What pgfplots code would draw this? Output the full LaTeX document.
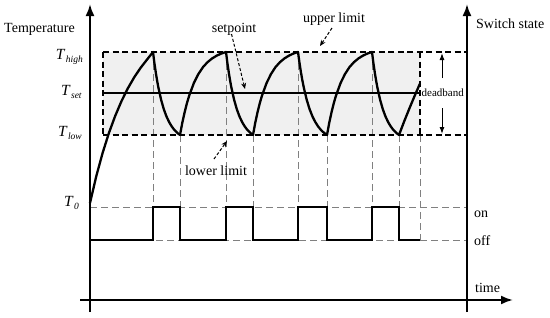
\documentclass[border=0pt]{standalone}
\usepackage{fontspec}
\setmainfont{Liberation Serif}
\usepackage{pgfplots}
\pgfplotsset{compat=1.18}
\usetikzlibrary{arrows.meta}
\definecolor{shade}{RGB}{240,240,240}
\definecolor{dgray}{RGB}{128,128,128}
\newcommand{\Tlab}[1]{\fontsize{15.5}{18}\selectfont\textit{T}\hspace{0.5pt}\raisebox{-0.45ex}{\fontsize{9.5}{11}\selectfont\textit{#1}}}
\begin{document}
\begin{tikzpicture}[lab/.style={font=\fontsize{14}{16}\selectfont, inner sep=0pt}]
\begin{axis}[width=550pt,height=317pt,scale only axis,
  xmin=0,xmax=550,ymin=0,ymax=317,y dir=reverse,hide axis,clip=false]
\addplot[draw=none,forget plot] coordinates {(0,0) (550,317)};
% shaded deadband
\addplot[fill=shade,draw=none] coordinates {(103,52) (420,52) (420,135) (103,135) (103,52)};
% grey dashed guide lines
\addplot[dgray,line width=0.9pt,dash pattern=on 7pt off 4pt] coordinates {(90,207) (467,207)};
\addplot[dgray,line width=0.9pt,dash pattern=on 7pt off 4pt] coordinates {(90,240) (467,240)};
\addplot[dgray,line width=0.9pt,dash pattern=on 7pt off 4pt] coordinates {(153,52) (153,240)};
\addplot[dgray,line width=0.9pt,dash pattern=on 7pt off 4pt] coordinates {(180,135) (180,240)};
\addplot[dgray,line width=0.9pt,dash pattern=on 7pt off 4pt] coordinates {(226,52) (226,240)};
\addplot[dgray,line width=0.9pt,dash pattern=on 7pt off 4pt] coordinates {(253,135) (253,240)};
\addplot[dgray,line width=0.9pt,dash pattern=on 7pt off 4pt] coordinates {(298,52) (298,240)};
\addplot[dgray,line width=0.9pt,dash pattern=on 7pt off 4pt] coordinates {(327,135) (327,240)};
\addplot[dgray,line width=0.9pt,dash pattern=on 7pt off 4pt] coordinates {(372,52) (372,240)};
\addplot[dgray,line width=0.9pt,dash pattern=on 7pt off 4pt] coordinates {(399,135) (399,240)};
\addplot[dgray,line width=0.9pt,dash pattern=on 7pt off 4pt] coordinates {(420,135) (420,240)};
% black dashed limits box
\addplot[black,line width=1.8pt,dash pattern=on 6pt off 3.5pt] coordinates {(103,52) (467,52)};
\addplot[black,line width=1.8pt,dash pattern=on 6pt off 3.5pt] coordinates {(103,135) (467,135)};
\addplot[black,line width=1.8pt,dash pattern=on 6pt off 3.5pt] coordinates {(103,52) (103,135)};
\addplot[black,line width=1.8pt,dash pattern=on 6pt off 3.5pt] coordinates {(420,52) (420,135)};
% setpoint
\addplot[black,line width=1.8pt] coordinates {(103,93) (420,93)};
% temperature curve
\addplot[black,line width=2.3pt,line join=round] coordinates {
(90,203) (96.3,176.1) (102.6,153.0) (108.9,133.0) (115.2,115.9) (121.5,101.1) (127.8,88.4) (134.1,77.5) (140.4,68.1) (146.7,60.0) (153,52)
(154.35,62.6) (155.7,72.0) (157.05,80.3) (158.4,87.6) (161.1,99.7) (163.8,109.2) (166.5,116.5) (169.2,122.2) (171.9,126.7) (174.6,130.2) (177.3,132.9) (180,135)
(182.3,122.8) (184.6,112.4) (186.9,103.3) (189.2,95.6) (193.8,83.2) (198.4,74.0) (203,67.1) (207.6,62.1) (212.2,58.4) (216.8,55.6) (221.4,53.5) (226,52)
(227.35,62.6) (228.7,72.0) (230.05,80.3) (231.4,87.6) (234.1,99.7) (236.8,109.2) (239.5,116.5) (242.2,122.2) (244.9,126.7) (247.6,130.2) (250.3,132.9) (253,135)
(255.25,122.8) (257.5,112.4) (259.75,103.3) (262,95.6) (266.5,83.2) (271,74.0) (275.5,67.1) (280,62.1) (284.5,58.4) (289,55.6) (293.5,53.5) (298,52)
(299.45,62.6) (300.9,72.0) (302.35,80.3) (303.8,87.6) (306.7,99.7) (309.6,109.2) (312.5,116.5) (315.4,122.2) (318.3,126.7) (321.2,130.2) (324.1,132.9) (327,135)
(329.25,122.8) (331.5,112.4) (333.75,103.3) (336,95.6) (340.5,83.2) (345,74.0) (349.5,67.1) (354,62.1) (358.5,58.4) (363,55.6) (367.5,53.5) (372,52)
(373.35,62.6) (374.7,72.0) (376.05,80.3) (377.4,87.6) (380.1,99.7) (382.8,109.2) (385.5,116.5) (388.2,122.2) (390.9,126.7) (393.6,130.2) (396.3,132.9) (399,135)
(404.25,121.2) (409.5,108.2) (414.75,95.6) (420,83.5)};
% switch state
\addplot[black,line width=2.2pt,line join=miter] coordinates {
(90,240) (153,240) (153,207) (180,207) (180,240) (226,240) (226,207) (253,207) (253,240)
(298,240) (298,207) (327,207) (327,240) (372,240) (372,207) (399,207) (399,240) (420,240)};
% axes
\addplot[black,line width=2.1pt,-{Latex[length=12pt,width=9pt]}] coordinates {(90,312) (90,4)};
\addplot[black,line width=2.1pt,-{Latex[length=12pt,width=9pt]}] coordinates {(467,312) (467,4)};
\addplot[black,line width=2.1pt,-{Latex[length=12pt,width=9pt]}] coordinates {(80,300) (513,300)};
% annotation arrows
\addplot[black,line width=1pt,dash pattern=on 3pt off 2pt,-{Stealth[length=6pt,width=5pt]}] coordinates {(231.5,34) (245,89)};
\addplot[black,line width=1pt,dash pattern=on 3pt off 2pt,-{Stealth[length=6pt,width=5pt]}] coordinates {(332,28) (320,46)};
\addplot[black,line width=1pt,dash pattern=on 3pt off 2pt,-{Stealth[length=6pt,width=5pt]}] coordinates {(214,159) (227,141)};
\addplot[black,line width=1pt,-{Latex[length=7pt,width=5pt]}] coordinates {(442,78) (442,53)};
\addplot[black,line width=1pt,-{Latex[length=7pt,width=5pt]}] coordinates {(442,108) (442,134)};
% texts
\node[lab,anchor=base west] at (axis cs:4,32) {Temperature};
\node[lab,anchor=base west] at (axis cs:476,28) {Switch state};
\node[lab,anchor=base] at (axis cs:234,32) {setpoint};
\node[lab,anchor=base] at (axis cs:334,22) {upper limit};
\node[lab,anchor=base] at (axis cs:216,175) {lower limit};
\node[lab,anchor=base west] at (axis cs:475,292) {time};
\node[lab,anchor=base west] at (axis cs:474,217) {on};
\node[lab,anchor=base west] at (axis cs:474,245) {off};
\node[font=\fontsize{11}{12}\selectfont,inner sep=0pt,anchor=west,fill=white] at (axis cs:421.5,93) {deadband};
\node[inner sep=0pt,anchor=east] at (axis cs:83,57) {\Tlab{high}};
\node[inner sep=0pt,anchor=east] at (axis cs:82,92) {\Tlab{set}};
\node[inner sep=0pt,anchor=east] at (axis cs:82,133) {\Tlab{low}};
\node[inner sep=0pt,anchor=east] at (axis cs:79,203) {\Tlab{0}};
\end{axis}
\end{tikzpicture}
\end{document}
